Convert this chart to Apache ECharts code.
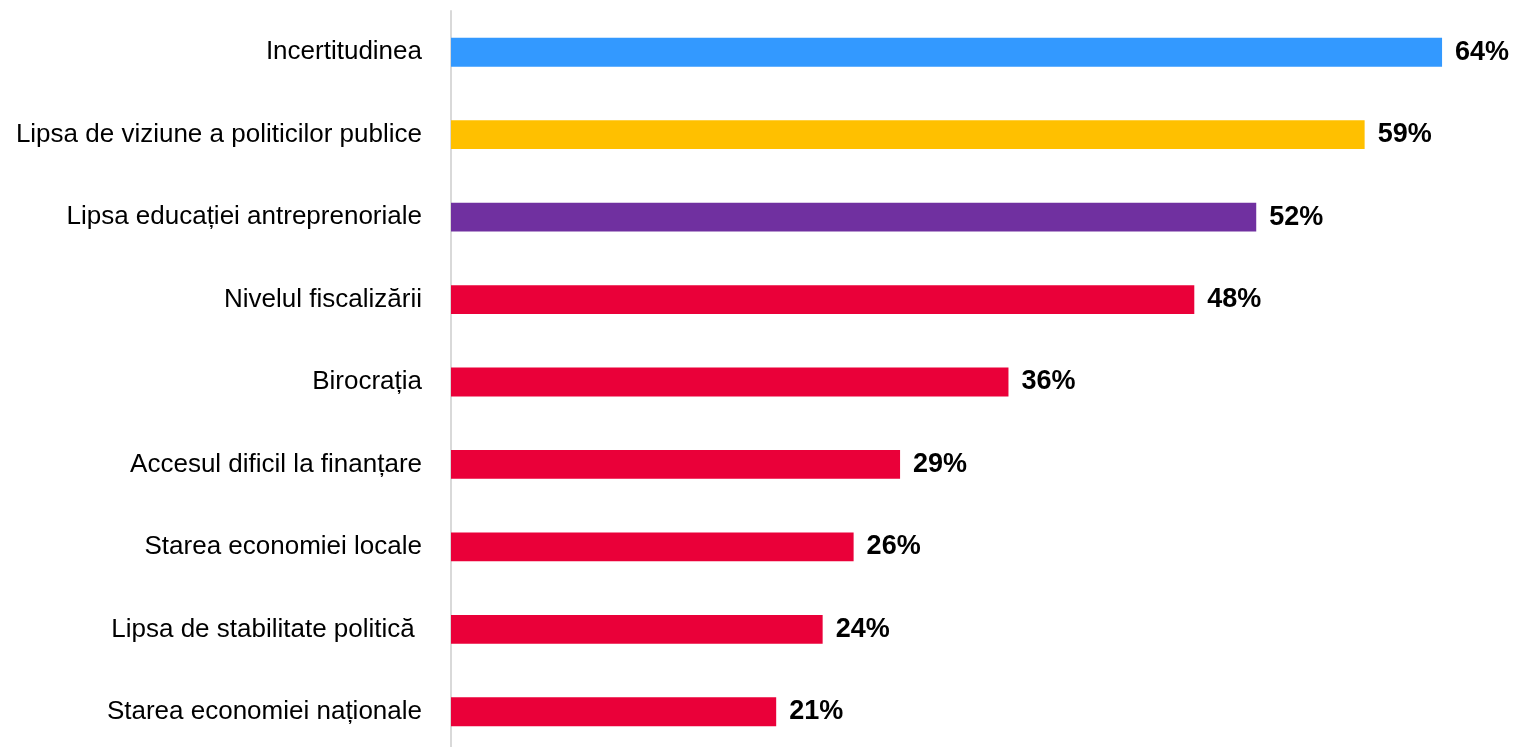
<!DOCTYPE html>
<html><head><meta charset="utf-8">
<script src="https://cdn.jsdelivr.net/npm/echarts@6/dist/echarts.min.js"></script>
<style>html,body{margin:0;padding:0;background:#fff}#c{width:1513px;height:747px}</style>
</head><body><div id="c"></div>
<script>
const categories = ["Incertitudinea","Lipsa de viziune a politicilor publice","Lipsa educației antreprenoriale","Nivelul fiscalizării","Birocrația","Accesul dificil la finanțare","Starea economiei locale","Lipsa de stabilitate politică ","Starea economiei naționale"];
const values = [64,59,52,48,36,29,26,24,21];
const colors = ["#3399FF","#FFC000","#7030A0","#EA0039","#EA0039","#EA0039","#EA0039","#EA0039","#EA0039"];
const chart = echarts.init(document.getElementById('c'));
chart.setOption({
  animation:false,
  grid:{left:451,width:1053,top:11,height:742,containLabel:false,outerBoundsMode:'none'},
  xAxis:{type:'value',min:0,max:68,show:false},
  yAxis:{type:'category',inverse:true,data:categories,
    axisLine:{show:true,lineStyle:{color:'#d9d9d9',width:2}},
    axisTick:{show:false},
    axisLabel:{margin:29,color:'#000',fontSize:26,fontFamily:'Liberation Sans'}},
  series:[{type:'bar',barWidth:'35%',
    data:values.map((v,i)=>({value:v,itemStyle:{color:colors[i]}})),
    label:{show:true,position:'right',distance:13,formatter:'{c}%',color:'#000',fontSize:27,fontWeight:'bold',fontFamily:'Liberation Sans'}}]
});
</script></body></html>
